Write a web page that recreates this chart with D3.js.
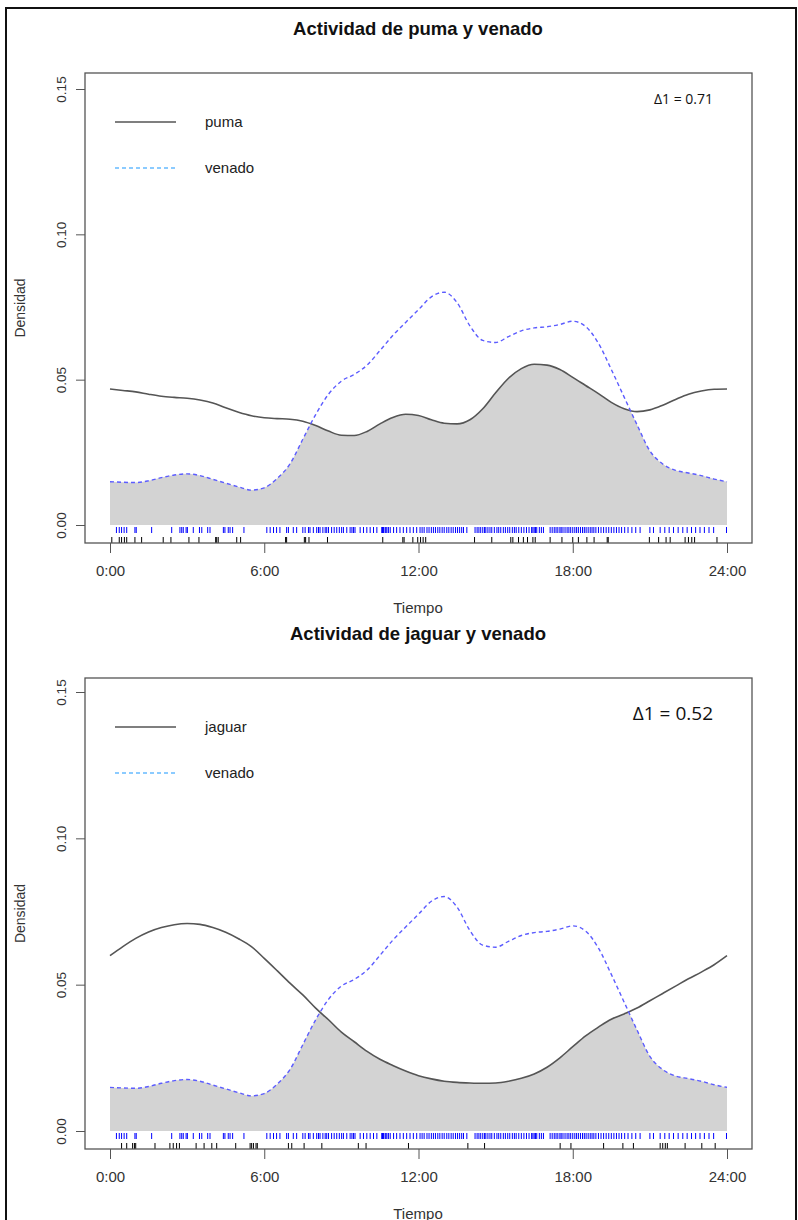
<!DOCTYPE html>
<html>
<head>
<meta charset="utf-8">
<script src="https://cdn.jsdelivr.net/npm/d3@7"></script>
<style>
  body { margin: 0; background: #fff; }
  text { font-family: "Liberation Sans", Arial, sans-serif; }
</style>
</head>
<body>
<div class="actividad"></div>
<script>
// horas del dia (rejilla de lectura) y densidades
const horas = [0,0.5,1,1.5,2,2.5,3,3.5,4,4.5,5,5.5,6,6.5,7,7.5,8,8.5,9,9.5,10,10.5,11,11.5,
  12,12.5,13,13.5,14,14.5,15,15.5,16,16.5,17,17.5,18,18.5,19,19.5,20,20.5,21,21.5,22,22.5,23,23.5,24];

const venado = [0.0149,0.0147,0.0146,0.0152,0.0163,0.0172,0.0176,0.0170,0.0157,0.0144,0.0131,0.0120,
  0.0128,0.0160,0.0210,0.0295,0.0380,0.0450,0.0495,0.0518,0.0550,0.0600,0.0652,0.0697,
  0.0741,0.0785,0.0801,0.0765,0.0685,0.0635,0.0628,0.0648,0.0668,0.0678,0.0682,0.0690,
  0.0701,0.0683,0.0625,0.0535,0.0440,0.0345,0.0255,0.0210,0.0188,0.0179,0.0170,0.0158,0.0149];

const puma = [0.0468,0.0463,0.0458,0.0450,0.0443,0.0439,0.0436,0.0430,0.0420,0.0403,0.0388,0.0376,
  0.0369,0.0366,0.0364,0.0357,0.0342,0.0323,0.0309,0.0308,0.0322,0.0348,0.0370,0.0381,
  0.0377,0.0362,0.0350,0.0348,0.0362,0.0400,0.0455,0.0505,0.0538,0.0553,0.0550,0.0535,
  0.0508,0.0480,0.0452,0.0422,0.0400,0.0390,0.0396,0.0412,0.0432,0.0450,0.0461,0.0467,0.0468];

const jaguar = [0.0599,0.0630,0.0658,0.0680,0.0695,0.0705,0.0709,0.0706,0.0695,0.0679,0.0657,0.0630,
  0.0590,0.0548,0.0505,0.0465,0.0420,0.0380,0.0338,0.0305,0.0272,0.0245,0.0224,0.0205,
  0.0189,0.0178,0.0170,0.0166,0.0164,0.0163,0.0164,0.0170,0.0180,0.0195,0.0218,0.0250,
  0.0288,0.0325,0.0355,0.0382,0.0400,0.0420,0.0445,0.0470,0.0495,0.0520,0.0543,0.0568,0.0599];

// registros (horas) para las marcas de alfombra
const registrosVenado = [0.25,0.36,0.45,0.55,0.65,0.97,1.02,1.62,2.4,2.72,2.79,2.85,2.96,3.01,3.24,3.48,
  3.57,3.8,3.89,4.41,4.47,4.6,4.67,4.77,5.21,6.1,6.23,6.36,6.48,6.61,6.87,6.94,7.13,7.26,7.5,7.59,
  7.72,7.78,7.91,8.04,8.11,8.17,8.28,8.37,8.43,8.5,8.62,8.72,8.82,8.92,9.01,9.08,9.21,9.34,9.41,
  9.47,9.53,9.73,9.86,9.99,10.12,10.25,10.38,10.57,10.6,10.64,10.7,10.73,10.77,10.83,10.9,11.03,
  11.15,11.28,11.41,11.54,11.67,11.8,11.93,12.06,12.14,12.22,12.33,12.41,12.5,12.58,12.66,12.75,
  12.83,12.92,13.0,13.1,13.18,13.27,13.35,13.44,13.52,13.6,13.68,13.75,13.88,14.2,14.28,14.35,
  14.42,14.5,14.57,14.62,14.7,14.78,14.85,14.95,15.05,15.12,15.2,15.3,15.38,15.47,15.55,15.65,
  15.73,15.8,15.9,16.0,16.1,16.2,16.3,16.4,16.45,16.5,16.55,16.6,16.7,16.78,16.86,17.12,17.2,
  17.28,17.35,17.42,17.5,17.55,17.62,17.7,17.78,17.85,17.92,18.0,18.08,18.15,18.22,18.3,18.38,
  18.45,18.52,18.6,18.68,18.75,18.82,18.9,19.0,19.1,19.2,19.3,19.4,19.5,19.6,19.7,19.8,19.9,
  20.02,20.15,20.3,20.45,20.62,21.0,21.14,21.4,21.58,21.75,21.92,22.1,22.28,22.45,22.62,22.78,
  22.95,23.12,23.3,23.48,23.98];

const registrosPuma = [0.07,0.36,0.45,0.56,0.65,0.97,1.23,2.07,2.37,3.07,3.46,4.11,4.15,4.21,4.93,5.08,
  6.83,6.87,7.56,7.61,7.74,8.46,10.61,11.39,11.44,11.78,11.97,12.08,12.18,12.28,14.18,14.85,15.59,
  15.67,15.89,16.08,16.24,16.45,16.54,17.12,17.58,18.0,18.22,18.55,18.83,19.34,19.38,20.98,21.34,
  21.63,21.79,22.37,22.5,22.63,22.74,23.61];

const registrosJaguar = [0.45,0.65,0.88,0.95,1.0,1.75,2.33,2.46,2.59,2.7,3.35,3.66,3.96,4.15,4.89,5.45,
  5.51,5.58,5.68,5.73,6.94,7.07,7.55,8.24,9.66,9.96,11.61,13.92,14.57,17.51,17.93,19.2,19.95,20.36,
  21.4,21.5,21.6,21.68,22.37,23.02,23.54];

const xTicks = [0, 6, 12, 18, 24];
const xTickLabels = ["0:00", "6:00", "12:00", "18:00", "24:00"];
const yTicks = [0, 0.05, 0.10, 0.15];
const yTickLabels = ["0.00", "0.05", "0.10", "0.15"];

const titulos = ["Actividad de puma y venado", "Actividad de jaguar y venado"];
const depredadores = ["puma", "jaguar"];
const deltas = ["\u03941 = 0.71", "\u03941 = 0.52"];

const width = 798;
const height = 1220;

var svg = d3.select('.actividad')
  .append('svg')
  .attr('width', width)
  .attr('height', height);

// marco exterior
svg.append('rect')
  .attr('x', 6).attr('y', 8)
  .attr('width', 790).attr('height', 1240)
  .attr('fill', 'none')
  .attr('stroke', '#111')
  .attr('stroke-width', 2);

var x = d3.scaleLinear().domain([0, 24]).range([110, 727]);

var paneles = [
  {top: 73, bottom: 543, y0: 525, y15: 89, pred: puma, rug: registrosPuma, deltaSize: 14, deltaY: 104},
  {top: 678, bottom: 1149, y0: 1131, y15: 692, pred: jaguar, rug: registrosJaguar, deltaSize: 19, deltaY: 720}
];

paneles.forEach(function(p, i) {
  var y = d3.scaleLinear().domain([0, 0.15]).range([p.y0, p.y15]);
  var g = svg.append('g');

  var area = d3.area()
    .x(function(d, j) { return x(horas[j]); })
    .y0(p.y0)
    .y1(function(d) { return y(d); })
    .curve(d3.curveMonotoneX);

  var linea = d3.line()
    .x(function(d, j) { return x(horas[j]); })
    .y(function(d) { return y(d); })
    .curve(d3.curveMonotoneX);

  // zona de solapamiento: area bajo venado recortada por el area bajo el depredador
  g.append('clipPath')
    .attr('id', 'clip' + i)
    .append('path')
    .attr('d', area(p.pred));

  g.append('path')
    .attr('d', area(venado))
    .attr('fill', '#d3d3d3')
    .attr('clip-path', 'url(#clip' + i + ')');

  g.append('path')
    .attr('d', linea(p.pred))
    .attr('fill', 'none')
    .attr('stroke', '#555')
    .attr('stroke-width', 1.6);

  g.append('path')
    .attr('d', linea(venado))
    .attr('fill', 'none')
    .attr('stroke', '#5c5cff')
    .attr('stroke-width', 1.4)
    .attr('stroke-dasharray', '4,3');

  // alfombra
  g.selectAll('.rugv')
    .data(registrosVenado)
    .enter()
    .append('line')
    .attr('x1', function(d) { return x(d); })
    .attr('x2', function(d) { return x(d); })
    .attr('y1', p.y0 + 2)
    .attr('y2', p.y0 + 8)
    .attr('stroke', '#0000ff')
    .attr('stroke-width', 1);

  g.selectAll('.rugp')
    .data(p.rug)
    .enter()
    .append('line')
    .attr('x1', function(d) { return x(d); })
    .attr('x2', function(d) { return x(d); })
    .attr('y1', p.y0 + 12)
    .attr('y2', p.bottom)
    .attr('stroke', '#000')
    .attr('stroke-width', 1);

  // caja
  g.append('rect')
    .attr('x', 85).attr('y', p.top)
    .attr('width', 752 - 85).attr('height', p.bottom - p.top)
    .attr('fill', 'none')
    .attr('stroke', '#555')
    .attr('stroke-width', 1.3);

  // eje x
  var ax = d3.axisBottom(x)
    .tickValues(xTicks)
    .tickSize(10)
    .tickPadding(12)
    .tickFormat(function(d, j) { return xTickLabels[j]; });
  var gx = g.append('g')
    .attr('transform', 'translate(0,' + p.bottom + ')')
    .call(ax);
  gx.select('.domain').remove();
  gx.selectAll('line').attr('stroke', '#555');
  gx.selectAll('text')
    .attr('font-size', '15px')
    .attr('fill', '#333')
    .style('font-family', '"Liberation Sans", Arial, sans-serif');

  // eje y
  var ay = d3.axisLeft(y)
    .tickValues(yTicks)
    .tickSize(9)
    .tickFormat(function(d, j) { return yTickLabels[j]; });
  var gy = g.append('g')
    .attr('transform', 'translate(85,0)')
    .call(ay);
  gy.select('.domain').remove();
  gy.selectAll('line').attr('stroke', '#555');
  gy.selectAll('text')
    .attr('x', null).attr('dy', null)
    .attr('text-anchor', 'middle')
    .attr('transform', 'translate(-24,0) rotate(-90)')
    .attr('font-size', '13.5px')
    .attr('fill', '#333')
    .style('font-family', '"Liberation Sans", Arial, sans-serif')
    .attr('dy', '0.35em');

  // titulos y etiquetas
  g.append('text')
    .attr('x', 418).attr('y', p.top - 38)
    .attr('text-anchor', 'middle')
    .attr('font-size', '18.5px')
    .attr('font-weight', 'bold')
    .attr('fill', '#111')
    .text(titulos[i]);

  g.append('text')
    .attr('x', 418).attr('y', p.bottom + 70)
    .attr('text-anchor', 'middle')
    .attr('font-size', '15px')
    .attr('fill', '#333')
    .text('Tiempo');

  g.append('text')
    .attr('transform', 'translate(25,' + ((p.top + p.bottom) / 2) + ') rotate(-90)')
    .attr('text-anchor', 'middle')
    .attr('font-size', '14px')
    .attr('fill', '#333')
    .text('Densidad');

  // leyenda
  var ly = p.top + 49;
  g.append('line')
    .attr('x1', 115).attr('x2', 176).attr('y1', ly).attr('y2', ly)
    .attr('stroke', '#555').attr('stroke-width', 1.5);
  g.append('text')
    .attr('x', 205).attr('y', ly).attr('dy', '0.35em')
    .attr('font-size', '15px').attr('fill', '#222')
    .text(depredadores[i]);
  g.append('line')
    .attr('x1', 115).attr('x2', 176).attr('y1', ly + 46).attr('y2', ly + 46)
    .attr('stroke', '#66bbff').attr('stroke-width', 1.3)
    .attr('stroke-dasharray', '4,3');
  g.append('text')
    .attr('x', 205).attr('y', ly + 46).attr('dy', '0.35em')
    .attr('font-size', '15px').attr('fill', '#222')
    .text('venado');

  g.append('text')
    .attr('x', 713).attr('y', p.deltaY)
    .attr('text-anchor', 'end')
    .attr('font-size', p.deltaSize + 'px')
    .attr('fill', '#111')
    .style('font-family', '"Open Sans", "Noto Sans", sans-serif')
    .text(deltas[i]);
});
</script>
</body>
</html>
